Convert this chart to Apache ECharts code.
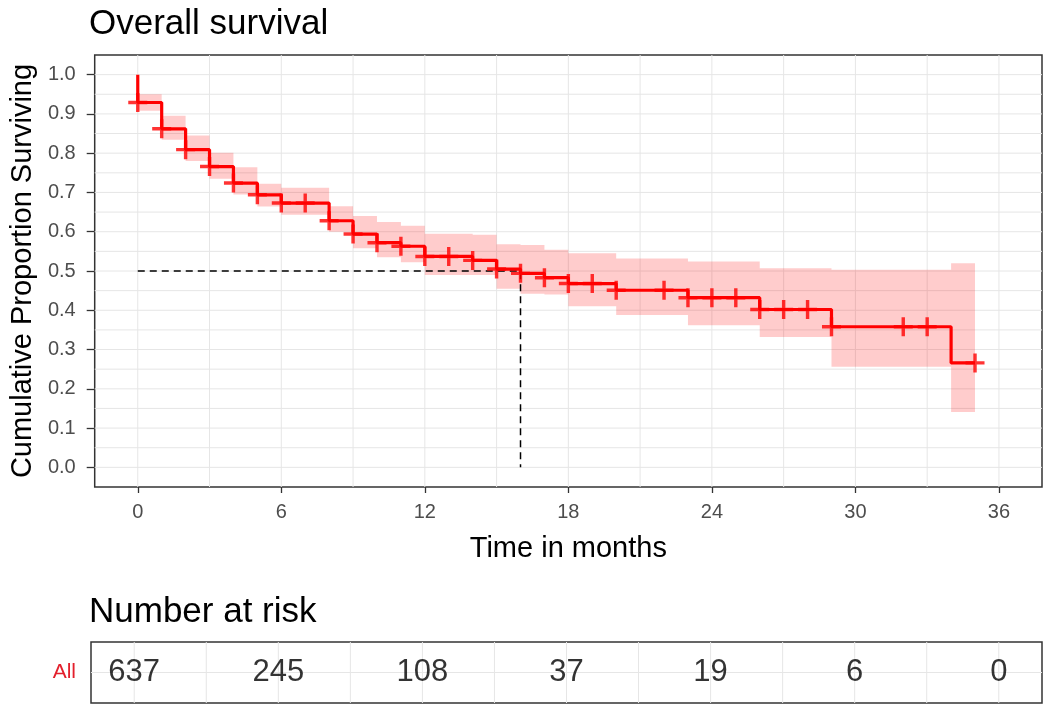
<!DOCTYPE html>
<html>
<head>
<meta charset="utf-8">
<title>Overall survival</title>
<script src="https://cdn.jsdelivr.net/npm/echarts@6/dist/echarts.min.js"></script>
<style>
  html, body { margin: 0; padding: 0; background: #fff; }
  #chart { width: 1045px; height: 709px; }
</style>
</head>
<body>
<div id="chart"></div>
<script>
// Kaplan-Meier estimate
var stepTimes = [0, 1, 2, 3, 4, 5, 6, 8, 9, 10, 11, 12, 14, 15, 16, 17, 18, 20, 23, 26, 29, 34];
var survival = [0.929, 0.862, 0.809, 0.766, 0.724, 0.694, 0.673, 0.628, 0.594, 0.572, 0.563, 0.537,
  0.527, 0.505, 0.494, 0.483, 0.468, 0.451, 0.432, 0.402, 0.358, 0.266];
var lastTime = 35;

// confidence band, one pair per step
var bandLower = [0.908, 0.834, 0.780, 0.735, 0.695, 0.664, 0.643, 0.600, 0.558, 0.535, 0.522, 0.490,
  0.490, 0.455, 0.442, 0.440, 0.410, 0.388, 0.362, 0.332, 0.256, 0.141];
var bandUpper = [0.950, 0.895, 0.845, 0.801, 0.764, 0.722, 0.712, 0.665, 0.640, 0.625, 0.615, 0.595,
  0.592, 0.568, 0.566, 0.554, 0.545, 0.532, 0.524, 0.507, 0.503, 0.520];

// censored observations
var censorTimes = [0, 1, 2, 3, 4, 5, 6, 7, 8, 9, 10, 11, 12, 13, 14, 15, 16, 17, 18, 19, 20, 22,
  23, 24, 25, 26, 27, 28, 29, 32, 33, 35];
var censorSurv = [0.929, 0.862, 0.809, 0.766, 0.724, 0.694, 0.673, 0.673, 0.628, 0.594, 0.572, 0.563,
  0.537, 0.537, 0.527, 0.505, 0.494, 0.483, 0.468, 0.468, 0.451, 0.451, 0.432, 0.432, 0.432,
  0.402, 0.402, 0.402, 0.358, 0.358, 0.358, 0.266];

var medianTime = 16;
var medianSurv = 0.5;

// number at risk table
var riskTimes = [0, 6, 12, 18, 24, 30, 36];
var riskCounts = [637, 245, 108, 37, 19, 6, 0];
var riskGroups = ['All'];

// ticks / grid
var majorX = [0, 6, 12, 18, 24, 30, 36];
var minorX = [3, 9, 15, 21, 27, 33];
var majorY = [0, 0.1, 0.2, 0.3, 0.4, 0.5, 0.6, 0.7, 0.8, 0.9, 1.0];
var minorY = [0.05, 0.15, 0.25, 0.35, 0.45, 0.55, 0.65, 0.75, 0.85, 0.95];

var FONT = '"Liberation Sans", Arial, sans-serif';

var chart = echarts.init(document.getElementById('chart'));

// grid lines drawn through the axes' own coord()
function gridLines(vx, vy) {
  return function (params, api) {
    var cs = params.coordSys;
    var out = [];
    vx.forEach(function (v) {
      var x = api.coord([v, 0])[0];
      out.push({ type: 'line', shape: { x1: x, y1: cs.y, x2: x, y2: cs.y + cs.height },
        style: { stroke: '#e6e6e6', lineWidth: 1 } });
    });
    vy.forEach(function (v) {
      var y = api.coord([0, v])[1];
      out.push({ type: 'line', shape: { x1: cs.x, y1: y, x2: cs.x + cs.width, y2: y },
        style: { stroke: '#e6e6e6', lineWidth: 1 } });
    });
    return { type: 'group', children: out };
  };
}

var bandEnd = stepTimes.slice(1).concat([lastTime]);

var curveData = [[0, 1]];
for (var i = 0; i < stepTimes.length; i++) {
  curveData.push([stepTimes[i], survival[i]]);
}
curveData.push([lastTime, survival[survival.length - 1]]);

var censorData = censorTimes.map(function (t, k) { return [t, censorSurv[k]]; });
var riskData = riskTimes.map(function (t, k) { return [t, 0, riskCounts[k]]; });

var option = {
  animation: false,
  backgroundColor: '#fff',
  textStyle: { fontFamily: FONT },
  title: [{
    text: 'Overall survival',
    left: 89, top: 7, padding: 0,
    textStyle: { fontSize: 35, fontWeight: 'normal', color: '#000', fontFamily: FONT }
  }, {
    text: 'Number at risk',
    left: 89, top: 595, padding: 0,
    textStyle: { fontSize: 35, fontWeight: 'normal', color: '#000', fontFamily: FONT }
  }],
  grid: [{
    left: 91, top: 55, width: 951, height: 432,
    show: true, borderColor: '#333', borderWidth: 1.5, backgroundColor: '#fff'
  }, {
    left: 91, top: 642, width: 951, height: 61,
    show: true, borderColor: '#333', borderWidth: 1.5, backgroundColor: '#fff'
  }],
  xAxis: [{
    type: 'value', gridIndex: 0, min: -1.8, max: 37.8,
    name: 'Time in months', nameLocation: 'middle', nameGap: 47,
    nameTextStyle: { fontSize: 29, color: '#000', fontFamily: FONT },
    axisLine: { show: false, onZero: false },
    axisTick: { show: true, customValues: majorX, length: 6, lineStyle: { color: '#333', width: 1.3 } },
    axisLabel: { customValues: majorX, fontSize: 20, color: '#4d4d4d', margin: 15, fontFamily: FONT },
    splitLine: { show: false }
  }, {
    type: 'value', gridIndex: 1, min: -1.8, max: 37.8,
    axisLine: { show: false, onZero: false }, axisTick: { show: false }, axisLabel: { show: false },
    splitLine: { show: false }
  }],
  yAxis: [{
    type: 'value', gridIndex: 0, min: -0.05, max: 1.05,
    name: 'Cumulative Proportion Surviving', nameLocation: 'middle', nameGap: 51,
    nameTextStyle: { fontSize: 29, color: '#000', fontFamily: FONT },
    axisLine: { show: false, onZero: false },
    axisTick: { show: true, customValues: majorY, length: 8, lineStyle: { color: '#333', width: 1.3 } },
    axisLabel: {
      customValues: majorY, fontSize: 20, color: '#4d4d4d', margin: 19, fontFamily: FONT,
      formatter: function (v) { return Number(v).toFixed(1); }
    },
    splitLine: { show: false }
  }, {
    type: 'category', gridIndex: 1, data: riskGroups,
    axisLine: { show: false, onZero: false }, axisTick: { show: false },
    axisLabel: { fontSize: 21, color: '#e3202c', margin: 15, fontFamily: FONT },
    splitLine: { show: false }
  }],
  series: [{
    // main panel grid
    type: 'custom', xAxisIndex: 0, yAxisIndex: 0, z: 1, silent: true,
    renderItem: gridLines(majorX.concat(minorX), majorY.concat(minorY)),
    data: [[0, 0]]
  }, {
    // confidence band
    type: 'custom', xAxisIndex: 0, yAxisIndex: 0, z: 2, silent: true,
    renderItem: function (params, api) {
      var up = [], lo = [];
      for (var k = 0; k < stepTimes.length; k++) {
        up.push(api.coord([stepTimes[k], bandUpper[k]]), api.coord([bandEnd[k], bandUpper[k]]));
        lo.push(api.coord([stepTimes[k], bandLower[k]]), api.coord([bandEnd[k], bandLower[k]]));
      }
      return { type: 'polygon', shape: { points: up.concat(lo.reverse()) },
        style: { fill: 'rgba(255,0,0,0.2)' } };
    },
    data: [[0, 0]]
  }, {
    // median lines
    type: 'line', xAxisIndex: 0, yAxisIndex: 0, z: 3, silent: true,
    showSymbol: false,
    lineStyle: { color: '#000', width: 1.5, type: [7, 5] },
    data: [[0, medianSurv], [medianTime, medianSurv], [medianTime, 0]]
  }, {
    type: 'line', xAxisIndex: 0, yAxisIndex: 0, z: 4, step: 'end',
    showSymbol: false,
    lineStyle: { color: '#ff0000', width: 3.2 },
    data: curveData
  }, {
    type: 'scatter', xAxisIndex: 0, yAxisIndex: 0, z: 5,
    symbol: 'path://M8.2,0 H11.8 V20 H8.2 Z M0,8.2 H20 V11.8 H0 Z',
    symbolSize: 19,
    itemStyle: { color: '#ff0000' },
    data: censorData
  }, {
    // risk table grid
    type: 'custom', xAxisIndex: 1, yAxisIndex: 1, z: 1, silent: true,
    renderItem: gridLines(majorX.concat(minorX), [0]),
    data: [[0, 0]]
  }, {
    type: 'scatter', xAxisIndex: 1, yAxisIndex: 1, z: 3,
    symbolSize: 1,
    itemStyle: { color: 'rgba(0,0,0,0)' },
    label: {
      show: true, position: 'inside', fontSize: 31, color: '#000', fontFamily: FONT,
      textBorderWidth: 0,
      formatter: function (p) { return p.value[2]; }
    },
    data: riskData
  }]
};

chart.setOption(option);
</script>
</body>
</html>
